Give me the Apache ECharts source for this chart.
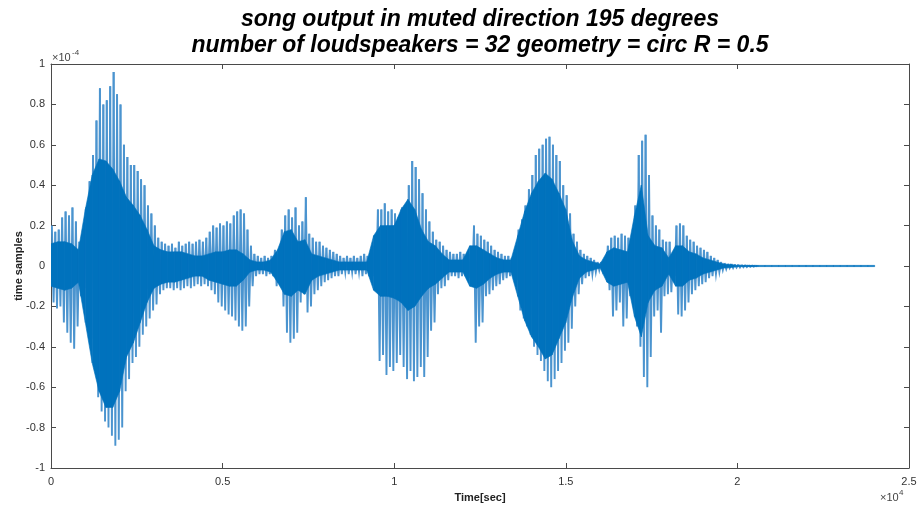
<!DOCTYPE html>
<html><head><meta charset="utf-8">
<script src="https://cdn.jsdelivr.net/npm/echarts@6/dist/echarts.min.js"></script>
<style>html,body{margin:0;padding:0;background:#fff}#c{width:920px;height:514px}</style>
</head><body><div id="c"></div><script>
// sample grid (samples per bin)
const SPIKE_BIN = 100;
const CORE_BIN = 200;
const xTickLabels = ['0','0.5','1','1.5','2','2.5'];
const yTickLabels = ['-1','-0.8','-0.6','-0.4','-0.2','0','0.2','0.4','0.6','0.8','1'];
// outer (peak) envelope per 100-sample bin, units of 1e-4
const outerMax = [
0.20,0.17,0.18,0.24,0.27,0.25,0.29,0.22,0.12,0.10,
0.29,0.42,0.55,0.72,0.88,0.80,0.82,0.89,0.96,0.85,
0.80,0.60,0.54,0.50,0.50,0.47,0.43,0.40,0.30,0.26,
0.20,0.14,0.12,0.11,0.10,0.11,0.09,0.12,0.10,0.11,
0.12,0.11,0.12,0.13,0.12,0.14,0.17,0.20,0.19,0.21,
0.20,0.22,0.21,0.25,0.27,0.28,0.26,0.18,0.10,0.06,
0.05,0.04,0.05,0.04,0.05,0.08,0.06,0.18,0.25,0.28,
0.24,0.29,0.20,0.22,0.34,0.16,0.14,0.12,0.12,0.10,
0.09,0.08,0.07,0.06,0.05,0.04,0.05,0.04,0.05,0.04,
0.05,0.06,0.05,0.06,0.10,0.28,0.28,0.31,0.27,0.28,
0.26,0.24,0.29,0.30,0.40,0.52,0.49,0.43,0.36,0.28,
0.22,0.17,0.13,0.12,0.10,0.08,0.07,0.06,0.06,0.07,
0.06,0.05,0.06,0.20,0.16,0.15,0.13,0.12,0.10,0.08,
0.07,0.06,0.05,0.05,0.04,0.06,0.18,0.23,0.30,0.38,
0.45,0.55,0.58,0.60,0.63,0.64,0.60,0.55,0.52,0.40,
0.35,0.26,0.16,0.12,0.08,0.06,0.05,0.04,0.03,0.02,
0.02,0.03,0.10,0.14,0.15,0.14,0.16,0.15,0.14,0.13,
0.30,0.55,0.62,0.65,0.45,0.25,0.20,0.18,0.13,0.12,
0.12,0.05,0.20,0.21,0.20,0.15,0.13,0.12,0.10,0.09,
0.08,0.07,0.05,0.04,0.03,0.02,0.015,0.01,0.01,0.008,
0.007,0.006,0.005,0.004,0.003,0.002
];
const outerMin = [
-0.18,-0.21,-0.20,-0.28,-0.33,-0.38,-0.41,-0.30,-0.15,-0.11,
-0.30,-0.36,-0.50,-0.65,-0.72,-0.77,-0.80,-0.84,-0.89,-0.86,
-0.80,-0.62,-0.56,-0.48,-0.45,-0.40,-0.34,-0.30,-0.26,-0.22,
-0.19,-0.14,-0.12,-0.11,-0.11,-0.12,-0.11,-0.12,-0.11,-0.10,
-0.11,-0.10,-0.09,-0.10,-0.09,-0.10,-0.12,-0.14,-0.18,-0.20,
-0.22,-0.24,-0.25,-0.27,-0.30,-0.32,-0.30,-0.20,-0.10,-0.05,
-0.04,-0.04,-0.05,-0.04,-0.05,-0.10,-0.06,-0.20,-0.33,-0.38,
-0.36,-0.33,-0.18,-0.14,-0.23,-0.20,-0.14,-0.12,-0.10,-0.08,
-0.07,-0.06,-0.05,-0.05,-0.04,-0.03,-0.04,-0.03,-0.04,-0.03,
-0.05,-0.04,-0.05,-0.05,-0.10,-0.47,-0.44,-0.54,-0.50,-0.52,
-0.48,-0.44,-0.50,-0.56,-0.52,-0.57,-0.55,-0.50,-0.55,-0.45,
-0.32,-0.28,-0.14,-0.11,-0.10,-0.07,-0.05,-0.05,-0.06,-0.05,
-0.05,-0.06,-0.08,-0.38,-0.30,-0.28,-0.15,-0.14,-0.12,-0.10,
-0.09,-0.07,-0.06,-0.05,-0.05,-0.07,-0.22,-0.26,-0.30,-0.34,
-0.40,-0.44,-0.47,-0.52,-0.57,-0.60,-0.56,-0.52,-0.48,-0.42,
-0.38,-0.31,-0.20,-0.14,-0.09,-0.06,-0.05,-0.04,-0.03,-0.02,
-0.02,-0.03,-0.12,-0.25,-0.22,-0.18,-0.30,-0.26,-0.15,-0.20,
-0.30,-0.40,-0.55,-0.60,-0.45,-0.25,-0.22,-0.33,-0.15,-0.14,
-0.13,-0.05,-0.24,-0.25,-0.22,-0.18,-0.14,-0.12,-0.10,-0.09,
-0.08,-0.06,-0.05,-0.04,-0.03,-0.02,-0.015,-0.01,-0.01,-0.008,
-0.007,-0.006,-0.005,-0.004,-0.003,-0.002
];
// dense core envelope per 200-sample step, units of 1e-4
const coreMax = [
0.11,0.12,0.12,0.11,0.08,0.28,0.45,0.53,0.52,0.48,
0.42,0.34,0.30,0.25,0.18,0.10,0.08,0.07,0.07,0.07,
0.06,0.05,0.05,0.06,0.07,0.07,0.08,0.08,0.06,0.03,
0.02,0.02,0.03,0.08,0.17,0.18,0.12,0.13,0.06,0.05,
0.04,0.03,0.02,0.02,0.02,0.02,0.02,0.15,0.20,0.20,
0.20,0.28,0.33,0.28,0.18,0.12,0.10,0.06,0.03,0.03,
0.03,0.10,0.10,0.08,0.06,0.04,0.03,0.03,0.15,0.27,
0.36,0.42,0.46,0.43,0.36,0.28,0.12,0.05,0.03,0.02,
0.01,0.07,0.09,0.08,0.07,0.25,0.40,0.15,0.10,0.09,
0.04,0.10,0.10,0.07,0.06,0.04,0.03,0.02,0.01,0.008,
0.003,0.003,0.003,0.003,0.003,0.003,0.003,0.003,0.003,0.003,
0.003,0.003,0.003,0.003,0.003,0.003,0.003,0.003,0.003,0.003,0.003
];
const coreMin = [
-0.10,-0.11,-0.12,-0.11,-0.08,-0.28,-0.48,-0.62,-0.70,-0.70,
-0.62,-0.45,-0.38,-0.28,-0.18,-0.11,-0.09,-0.08,-0.08,-0.07,
-0.06,-0.05,-0.05,-0.07,-0.08,-0.09,-0.10,-0.10,-0.07,-0.03,
-0.02,-0.02,-0.03,-0.08,-0.14,-0.15,-0.12,-0.14,-0.07,-0.05,
-0.04,-0.03,-0.02,-0.02,-0.02,-0.02,-0.02,-0.12,-0.15,-0.15,
-0.16,-0.18,-0.22,-0.20,-0.15,-0.11,-0.09,-0.06,-0.03,-0.03,
-0.03,-0.10,-0.11,-0.09,-0.06,-0.04,-0.03,-0.03,-0.15,-0.27,
-0.35,-0.40,-0.46,-0.44,-0.36,-0.28,-0.15,-0.06,-0.03,-0.02,
-0.01,-0.08,-0.10,-0.09,-0.08,-0.25,-0.35,-0.18,-0.12,-0.10,
-0.04,-0.10,-0.10,-0.07,-0.06,-0.04,-0.03,-0.02,-0.01,-0.008,
-0.003,-0.003,-0.003,-0.003,-0.003,-0.003,-0.003,-0.003,-0.003,-0.003,
-0.003,-0.003,-0.003,-0.003,-0.003,-0.003,-0.003,-0.003,-0.003,-0.003,-0.003
];

const spikeData = outerMax.map((hi, i) => [i * SPIKE_BIN + SPIKE_BIN / 2, outerMin[i], hi]);
const coreData = coreMax.map((hi, j) => [j * CORE_BIN, coreMin[j], hi]);

const AX = '#4a4a4a';
const FONT = "'Liberation Sans', Arial, Helvetica, sans-serif";
const Q = SPIKE_BIN / 4;

function renderSpike(params, api) {
  const i = params.dataIndexInside;
  const x = api.value(0, i);
  const pts = [api.coord([x - Q, api.value(2, i)]), api.coord([x + Q, api.value(1, i)])];
  if (i < params.dataInsideLength - 1) {
    pts.push(api.coord([api.value(0, i + 1) - Q, api.value(2, i + 1)]));
  }
  return { type: 'polyline', shape: { points: pts },
    style: { stroke: '#4b94cf', lineWidth: 1.9, fill: null, lineJoin: 'miter' } };
}
function renderCore(params, api) {
  const i = params.dataIndexInside;
  if (i >= params.dataInsideLength - 1) return null;
  const x0 = api.value(0, i), x1 = api.value(0, i + 1);
  const pts = [
    api.coord([x0, api.value(2, i)]), api.coord([x1, api.value(2, i + 1)]),
    api.coord([x1, api.value(1, i + 1)]), api.coord([x0, api.value(1, i)])
  ];
  return { type: 'polygon', shape: { points: pts },
    style: { fill: '#0072BD', stroke: '#0072BD', lineWidth: 0.6 } };
}

const baseX = {
  type: 'value', min: 0, max: 25000, interval: 5000,
  axisLine: { show: true, onZero: false, lineStyle: { color: AX, width: 1 } },
  axisTick: { show: true, inside: true, length: 5, lineStyle: { color: AX } },
  splitLine: { show: false }
};
const baseY = {
  type: 'value', min: -1, max: 1, interval: 0.2,
  axisLine: { show: true, onZero: false, lineStyle: { color: AX, width: 1 } },
  axisTick: { show: true, inside: true, length: 5, lineStyle: { color: AX } },
  splitLine: { show: false }
};

const chart = echarts.init(document.getElementById('c'), null, { renderer: 'canvas' });
chart.setOption({
  backgroundColor: '#fff',
  animation: false,
  grid: { left: 51, right: 11, top: 64, bottom: 46, containLabel: false, outerBoundsMode: 'none' },
  xAxis: [
    Object.assign({}, baseX, { position: 'bottom',
      axisLabel: { formatter: v => xTickLabels[Math.round(v / 5000)], color: '#333', fontSize: 11, fontFamily: FONT, margin: 8 },
      name: 'Time[sec]', nameLocation: 'middle', nameGap: 24, nameMoveOverlap: false,
      nameTextStyle: { fontWeight: 'bold', fontSize: 11, color: '#222', fontFamily: FONT } }),
    Object.assign({}, baseX, { position: 'top', axisLabel: { show: false } })
  ],
  yAxis: [
    Object.assign({}, baseY, { position: 'left',
      axisLabel: { formatter: v => yTickLabels[Math.round((v + 1) / 0.2)], color: '#333', fontSize: 11, fontFamily: FONT, margin: 6 },
      name: 'time samples', nameLocation: 'middle', nameGap: 27, nameMoveOverlap: false,
      nameTextStyle: { fontWeight: 'bold', fontSize: 11, color: '#222', fontFamily: FONT } }),
    Object.assign({}, baseY, { position: 'right', axisLabel: { show: false } })
  ],
  graphic: [
    { type: 'text', x: 480, y: 20, style: { text: 'song output in muted direction 195 degrees', fill: '#000',
      font: "italic bold 23px 'Liberation Sans', Arial, sans-serif", textAlign: 'center', textVerticalAlign: 'middle' } },
    { type: 'text', x: 480, y: 46, style: { text: 'number of loudspeakers = 32 geometry = circ R = 0.5', fill: '#000',
      font: "italic bold 23px 'Liberation Sans', Arial, sans-serif", textAlign: 'center', textVerticalAlign: 'middle' } },
    { type: 'text', x: 52, y: 58, style: { text: '\u00d710', fill: '#444', font: "11px 'Liberation Sans', Arial, sans-serif", textVerticalAlign: 'middle' } },
    { type: 'text', x: 72, y: 53, style: { text: '-4', fill: '#444', font: "8px 'Liberation Sans', Arial, sans-serif", textVerticalAlign: 'middle' } },
    { type: 'text', x: 880, y: 498, style: { text: '\u00d710', fill: '#444', font: "11px 'Liberation Sans', Arial, sans-serif", textVerticalAlign: 'middle' } },
    { type: 'text', x: 899, y: 493, style: { text: '4', fill: '#444', font: "8px 'Liberation Sans', Arial, sans-serif", textVerticalAlign: 'middle' } }
  ],
  series: [
    { type: 'custom', name: 'peaks', renderItem: renderSpike, data: spikeData,
      encode: { x: 0, y: [1, 2] }, clip: true, silent: true },
    { type: 'custom', name: 'core', renderItem: renderCore, data: coreData,
      encode: { x: 0, y: [1, 2] }, clip: true, silent: true }
  ]
});
</script></body></html>
